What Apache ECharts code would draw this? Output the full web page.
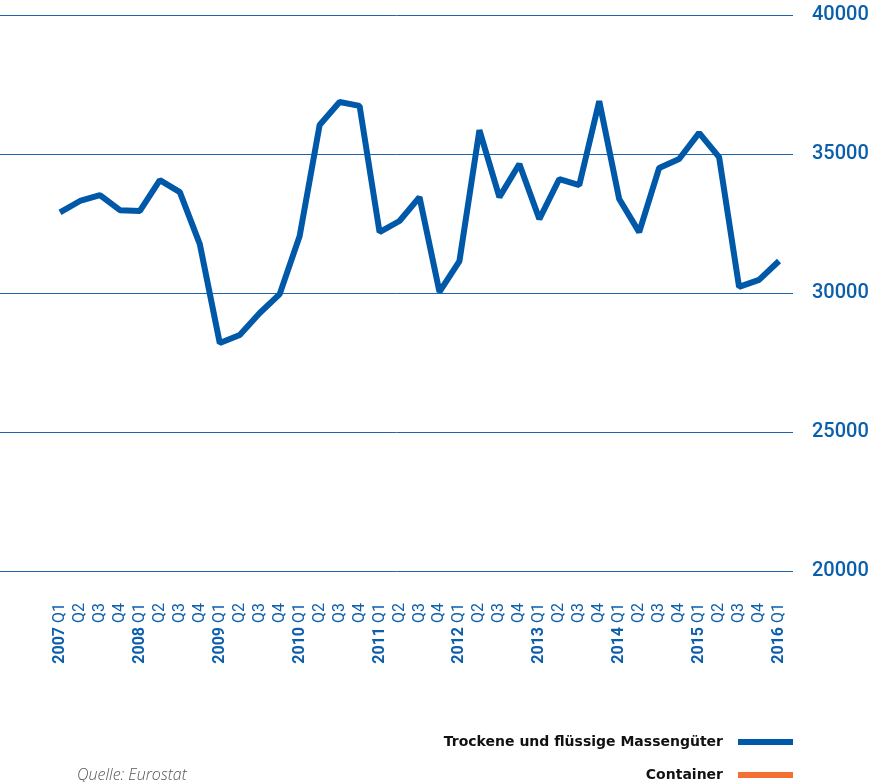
<!DOCTYPE html>
<html>
<head>
<meta charset="utf-8">
<script src="https://cdn.jsdelivr.net/npm/echarts@6/dist/echarts.min.js"></script>
<style>
  html, body { margin: 0; padding: 0; background: #fff; }
  #chart { width: 884px; height: 782px; }
</style>
</head>
<body>
<div id="chart"></div>
<script>
const quarters = [
  '2007 Q1', 'Q2', 'Q3', 'Q4',
  '2008 Q1', 'Q2', 'Q3', 'Q4',
  '2009 Q1', 'Q2', 'Q3', 'Q4',
  '2010 Q1', 'Q2', 'Q3', 'Q4',
  '2011 Q1', 'Q2', 'Q3', 'Q4',
  '2012 Q1', 'Q2', 'Q3', 'Q4',
  '2013 Q1', 'Q2', 'Q3', 'Q4',
  '2014 Q1', 'Q2', 'Q3', 'Q4',
  '2015 Q1', 'Q2', 'Q3', 'Q4',
  '2016 Q1'
]
const massengueter = [
  32900, 33310, 33520, 32980,
  32950, 34060, 33630, 31760,
  28200, 28490, 29280, 29960,
  32050, 36040, 36870, 36730,
  32190, 32590, 33450, 30040,
  31150, 35860, 33450, 34640,
  32660, 34100, 33880, 36900,
  33380, 32190, 34500, 34820,
  35760, 34890, 30220, 30470,
  31150
]
const container = []
const yTicks = [20000, 25000, 30000, 35000, 40000]

const blue = '#0059a8'
const orange = '#f36f32'

const legendText = {
  fontFamily: 'DejaVu Sans',
  fontWeight: 'bold',
  fontSize: 14,
  color: '#111',
  padding: [0, 10, 0, 0]
}

const chart = echarts.init(document.getElementById('chart'))
chart.setOption({
  animation: false,
  grid: [
    { left: 0, right: 91, top: 15, bottom: 211 },
    { left: 60, right: 105, top: 15, bottom: 211 }
  ],
  xAxis: [
    { gridIndex: 0, type: 'value', show: false, min: 0, max: 1 },
    {
      gridIndex: 1,
      type: 'category',
      boundaryGap: false,
      data: quarters,
      axisLine: { show: false },
      axisTick: { show: false },
      axisLabel: {
        interval: 0,
        rotate: 90,
        margin: 32,
        color: '#0d5fac',
        fontFamily: 'Roboto',
        fontSize: 16,
        formatter: v => {
          const p = v.split(' ')
          return p.length > 1 ? '{y|' + p[0] + '} ' + p[1] : v
        },
        rich: {
          y: { fontWeight: 'bold', fontSize: 16, fontFamily: 'Roboto', color: '#0d5fac' }
        }
      }
    }
  ],
  yAxis: [
    {
      gridIndex: 0,
      type: 'value',
      position: 'right',
      min: yTicks[0],
      max: yTicks[yTicks.length - 1],
      interval: 5000,
      axisLine: { show: false },
      axisTick: { show: false },
      splitLine: { lineStyle: { color: '#1e64aa', width: 1 } },
      axisLabel: {
        margin: 19,
        color: '#0a5fab',
        fontFamily: 'Roboto',
        fontWeight: 500,
        fontSize: 20,
        formatter: v => String(v)
      }
    },
    {
      gridIndex: 1,
      type: 'value',
      show: false,
      min: yTicks[0],
      max: yTicks[yTicks.length - 1]
    }
  ],
  legend: [
    {
      right: 91,
      top: 735,
      padding: 0,
      align: 'right',
      itemWidth: 55,
      itemHeight: 6,
      icon: 'rect',
      textStyle: legendText,
      data: ['Trockene und flüssige Massengüter']
    },
    {
      right: 91,
      top: 768,
      padding: 0,
      align: 'right',
      itemWidth: 55,
      itemHeight: 6,
      icon: 'rect',
      textStyle: legendText,
      data: ['Container']
    }
  ],
  graphic: [
    {
      type: 'text',
      left: 77,
      top: 767,
      style: {
        text: 'Quelle: Eurostat',
        font: 'italic 300 16px "Open Sans"',
        fill: '#555'
      }
    }
  ],
  series: [
    {
      name: 'Trockene und flüssige Massengüter',
      type: 'line',
      xAxisIndex: 1,
      yAxisIndex: 1,
      data: massengueter,
      showSymbol: false,
      color: blue,
      lineStyle: { width: 6, color: blue }
    },
    {
      name: 'Container',
      type: 'line',
      xAxisIndex: 1,
      yAxisIndex: 1,
      data: container,
      showSymbol: false,
      color: orange,
      lineStyle: { width: 6, color: orange }
    }
  ]
})
</script>
</body>
</html>
